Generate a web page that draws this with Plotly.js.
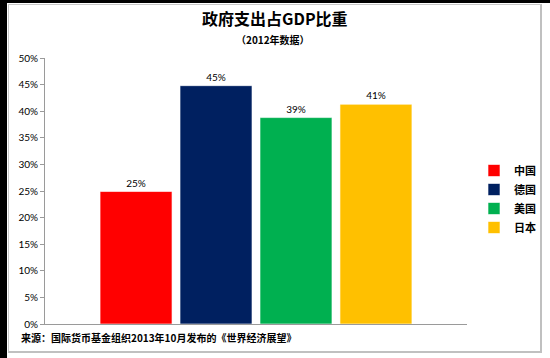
<!DOCTYPE html>
<html>
<head>
<meta charset="utf-8">
<script src="https://cdn.plot.ly/plotly-3.0.1.min.js"></script>
<style>
  html, body { margin: 0; padding: 0; background: #fff; }
  #wrap { position: relative; width: 550px; height: 358px; overflow: hidden; }
  #chart { position: absolute; left: 0; top: 0; width: 550px; height: 358px; }
  .blk-top { position: absolute; left: 0; top: 0; width: 550px; height: 3px; background: #000; }
  .blk-left { position: absolute; left: 0; top: 0; width: 7px; height: 358px; background: #000; }
  .frame { position: absolute; left: 8px; top: 4px; width: 531px; height: 346px;
           border-left: 1px solid #c8c8c8; border-top: 1px solid #c8c8c8;
           border-right: 2px solid #c0c0c0; border-bottom: 2px solid #c0c0c0; pointer-events: none; }
</style>
</head>
<body>
<div id="wrap">
  <div id="chart"></div>
  <div class="frame"></div>
  <div class="blk-top"></div>
  <div class="blk-left"></div>
</div>
<script>
// Data
const countries = ['中国', '德国', '美国', '日本'];
const shares = [0.249, 0.448, 0.388, 0.413];
const colors = ['#FF0000', '#002060', '#00B050', '#FFC000'];
const category = ['2012'];
const titleText = '政府支出占GDP比重';
const subtitleText = '（2012年数据）';
const sourceText = '来源：国际货币基金组织2013年10月发布的《世界经济展望》';

const cjk = '"Noto Sans CJK SC", "Noto Sans", sans-serif';
const latin = 'Lato, "Liberation Sans", sans-serif';

const traces = countries.map((c, i) => ({
  type: 'bar',
  name: c,
  x: category,
  y: [shares[i]],
  marker: { color: colors[i], line: { color: 'rgba(255,255,255,0.6)', width: 1 } },
  texttemplate: '%{y:.0%}',
  textposition: 'outside',
  cliponaxis: false,
  textfont: { family: latin, size: 10, color: '#000' },
  hoverinfo: 'skip'
}));

const layout = {
  width: 550, height: 358,
  margin: { l: 45, r: 83, t: 58, b: 34, pad: 0, autoexpand: false },
  paper_bgcolor: '#fff', plot_bgcolor: '#fff',
  barmode: 'group',
  bargap: 0.242,
  bargroupgap: 0.1,
  showlegend: true,
  legend: {
    xref: 'container', yref: 'container',
    x: 474 / 550, xanchor: 'left', y: 1 - 199 / 358, yanchor: 'middle',
    font: { family: cjk, size: 11, color: '#000', weight: 'bold' },
    tracegroupgap: 0, itemwidth: 30, bgcolor: 'rgba(0,0,0,0)'
  },
  xaxis: {
    type: 'category', showticklabels: false, ticks: '', automargin: false,
    showline: true, linecolor: '#9a9a9a', linewidth: 1, showgrid: false, zeroline: false, fixedrange: true
  },
  yaxis: {
    range: [0, 0.5], dtick: 0.05, tick0: 0, tickformat: '.0%', automargin: false,
    showline: true, linecolor: '#9a9a9a', linewidth: 1,
    ticks: 'outside', ticklen: 4, tickcolor: '#9a9a9a',
    showgrid: false, zeroline: false,
    tickfont: { family: latin, size: 10, color: '#000' }, fixedrange: true
  },
  annotations: [
    { text: '<b>' + titleText + '</b>', xref: 'paper', yref: 'paper', x: (275 - 45) / 422, y: 1 + (58 - 18) / 266,
      xanchor: 'center', yanchor: 'middle', showarrow: false,
      font: { family: cjk, size: 16, color: '#000' } },
    { text: '<b>' + subtitleText + '</b>', xref: 'paper', yref: 'paper', x: (273 - 45) / 422, y: 1 + (58 - 40) / 266,
      xanchor: 'center', yanchor: 'middle', showarrow: false,
      font: { family: cjk, size: 10, color: '#000' } },
    { text: '<b>' + sourceText + '</b>', xref: 'paper', yref: 'paper', x: (19 - 45) / 422, y: -(337 - 324) / 266,
      xanchor: 'left', yanchor: 'middle', showarrow: false,
      font: { family: cjk, size: 10, color: '#000' } }
  ]
};

Plotly.newPlot('chart', traces, layout, { displayModeBar: false, staticPlot: true });
</script>
</body>
</html>
